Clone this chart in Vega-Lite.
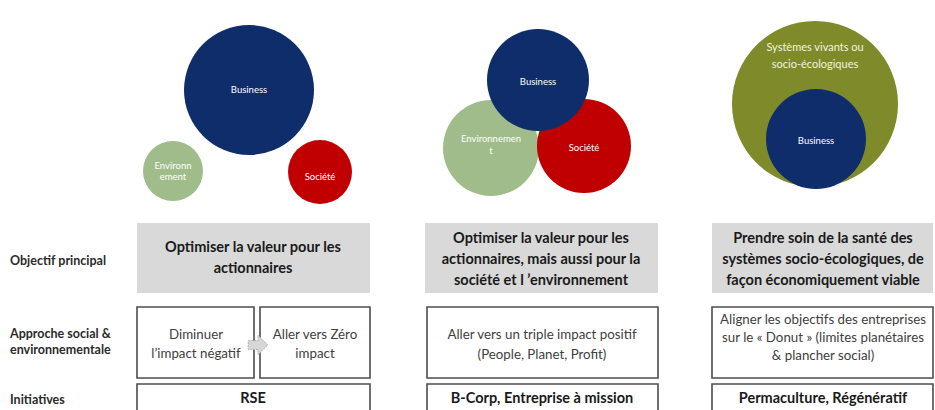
{
  "$schema": "https://vega.github.io/schema/vega-lite/v6.json",
  "autosize": {"type": "fit", "contains": "padding"},
  "width": 935,
  "height": 410,
  "padding": 0,
  "background": "white",
  "config": {"view": {"stroke": null}},
  "datasets": {
    "grayBoxes": [
      {"x": 137, "x2": 370, "y": 223, "y2": 293},
      {"x": 425, "x2": 658, "y": 223, "y2": 293},
      {"x": 712, "x2": 933, "y": 223, "y2": 293}
    ],
    "outlineBoxes": [
      {"x": 137, "x2": 254, "y": 307, "y2": 378},
      {"x": 260, "x2": 370, "y": 307, "y2": 378},
      {"x": 427, "x2": 658, "y": 307, "y2": 378},
      {"x": 712, "x2": 933, "y": 307, "y2": 378},
      {"x": 137, "x2": 370, "y": 384, "y2": 420},
      {"x": 427, "x2": 658, "y": 384, "y2": 420},
      {"x": 712, "x2": 933, "y": 384, "y2": 420}
    ],
    "circles": [
      {"x": 249, "y": 90, "r": 65, "group": "Business"},
      {"x": 173, "y": 171, "r": 30, "group": "Environnement"},
      {"x": 320, "y": 172, "r": 32, "group": "Société"},
      {"x": 491, "y": 148, "r": 48, "group": "Environnement"},
      {"x": 584, "y": 146, "r": 47, "group": "Société"},
      {"x": 538, "y": 80, "r": 51, "group": "Business"},
      {"x": 815, "y": 104, "r": 83, "group": "Systèmes"},
      {"x": 816, "y": 139, "r": 50, "group": "Business"}
    ],
    "circleLabels": [
      {"x": 249, "y": 90, "t": "Business"},
      {"x": 173, "y": 166, "t": "Environn"},
      {"x": 173, "y": 177, "t": "ement"},
      {"x": 320, "y": 177, "t": "Société"},
      {"x": 538, "y": 82, "t": "Business"},
      {"x": 491, "y": 139, "t": "Environnemen"},
      {"x": 491, "y": 151, "t": "t"},
      {"x": 584, "y": 148, "t": "Société"},
      {"x": 816, "y": 141, "t": "Business"}
    ],
    "outerLabels": [
      {"x": 815, "y": 48, "t": "Systèmes vivants ou"},
      {"x": 815, "y": 65, "t": "socio-écologiques"}
    ],
    "titles": [
      {"x": 253, "y": 248, "t": "Optimiser la valeur pour les"},
      {"x": 253, "y": 269, "t": "actionnaires"},
      {"x": 541, "y": 239, "t": "Optimiser la valeur pour les"},
      {"x": 541, "y": 260, "t": "actionnaires, mais aussi pour la"},
      {"x": 541, "y": 281, "t": "société et l ’environnement"},
      {"x": 823, "y": 239, "t": "Prendre soin de la santé des"},
      {"x": 823, "y": 260, "t": "systèmes socio-écologiques, de"},
      {"x": 823, "y": 281, "t": "façon économiquement viable"},
      {"x": 253, "y": 399, "t": "RSE"},
      {"x": 542, "y": 399, "t": "B-Corp, Entreprise à mission"},
      {"x": 823, "y": 399, "t": "Permaculture, Régénératif"}
    ],
    "bodyText": [
      {"x": 196, "y": 335, "t": "Diminuer"},
      {"x": 196, "y": 354, "t": "l’impact négatif"},
      {"x": 315, "y": 335, "t": "Aller vers Zéro"},
      {"x": 315, "y": 354, "t": "impact"},
      {"x": 542, "y": 335, "t": "Aller vers un triple impact positif"},
      {"x": 542, "y": 355, "t": "(People, Planet, Profit)"},
      {"x": 823, "y": 320, "t": "Aligner les objectifs des entreprises"},
      {"x": 823, "y": 338, "t": "sur le « Donut » (limites planétaires"},
      {"x": 823, "y": 356, "t": "& plancher social)"}
    ],
    "rowLabels": [
      {"x": 10, "y": 261, "t": "Objectif principal"},
      {"x": 10, "y": 334, "t": "Approche social &"},
      {"x": 10, "y": 350, "t": "environnementale"},
      {"x": 10, "y": 400, "t": "Initiatives"}
    ],
    "arrows": [
      {"x": 258, "y": 345}
    ]
  },
  "encoding": {
    "x": {"field": "x", "type": "quantitative", "scale": {"domain": [0, 935], "nice": false, "zero": false}, "axis": null},
    "y": {"field": "y", "type": "quantitative", "scale": {"domain": [0, 410], "nice": false, "zero": false, "reverse": true}, "axis": null}
  },
  "layer": [
    {
      "data": {"name": "grayBoxes"},
      "mark": {"type": "rect", "fill": "#d9d9d9", "clip": true},
      "encoding": {"x2": {"field": "x2"}, "y2": {"field": "y2"}}
    },
    {
      "data": {"name": "outlineBoxes"},
      "mark": {"type": "rect", "fill": "white", "stroke": "#4d4d4d", "strokeWidth": 1.6, "clip": true},
      "encoding": {"x2": {"field": "x2"}, "y2": {"field": "y2"}}
    },
    {
      "data": {"name": "arrows"},
      "mark": {"type": "point", "shape": "M -1 -0.45 L 0 -0.45 L 0 -1 L 1 0 L 0 1 L 0 0.45 L -1 0.45 Z", "size": 380, "filled": true, "fill": "#d6d6d6", "stroke": "#b0b0b0", "strokeWidth": 1, "strokeDash": [2, 1], "opacity": 1},
      "encoding": {}
    },
    {
      "data": {"name": "circles"},
      "mark": {"type": "point", "shape": "circle", "filled": true, "opacity": 1},
      "encoding": {
        "size": {"field": "r", "type": "quantitative", "scale": {"type": "pow", "exponent": 2, "domain": [0, 100], "range": [0, 40000]}, "legend": null},
        "color": {"field": "group", "type": "nominal", "scale": {"domain": ["Business", "Environnement", "Société", "Systèmes"], "range": ["#0f2d6b", "#9fbc8a", "#c00000", "#7f8b2b"]}, "legend": null},
        "order": {"value": 0}
      }
    },
    {
      "data": {"name": "circleLabels"},
      "mark": {"type": "text", "color": "white", "font": "Lato", "fontSize": 9.5, "align": "center", "baseline": "middle"},
      "encoding": {"text": {"field": "t"}}
    },
    {
      "data": {"name": "outerLabels"},
      "mark": {"type": "text", "color": "#f2f2e0", "font": "Lato", "fontSize": 11, "align": "center", "baseline": "middle"},
      "encoding": {"text": {"field": "t"}}
    },
    {
      "data": {"name": "titles"},
      "mark": {"type": "text", "color": "#1a1a1a", "font": "Lato", "fontWeight": "bold", "fontSize": 14.5, "align": "center", "baseline": "middle"},
      "encoding": {"text": {"field": "t"}}
    },
    {
      "data": {"name": "bodyText"},
      "mark": {"type": "text", "color": "#404040", "font": "Lato", "fontSize": 13.3, "align": "center", "baseline": "middle"},
      "encoding": {"text": {"field": "t"}}
    },
    {
      "data": {"name": "rowLabels"},
      "mark": {"type": "text", "color": "#2b2b2b", "font": "Lato", "fontWeight": "bold", "fontSize": 12.5, "align": "left", "baseline": "middle"},
      "encoding": {"text": {"field": "t"}}
    }
  ]
}
